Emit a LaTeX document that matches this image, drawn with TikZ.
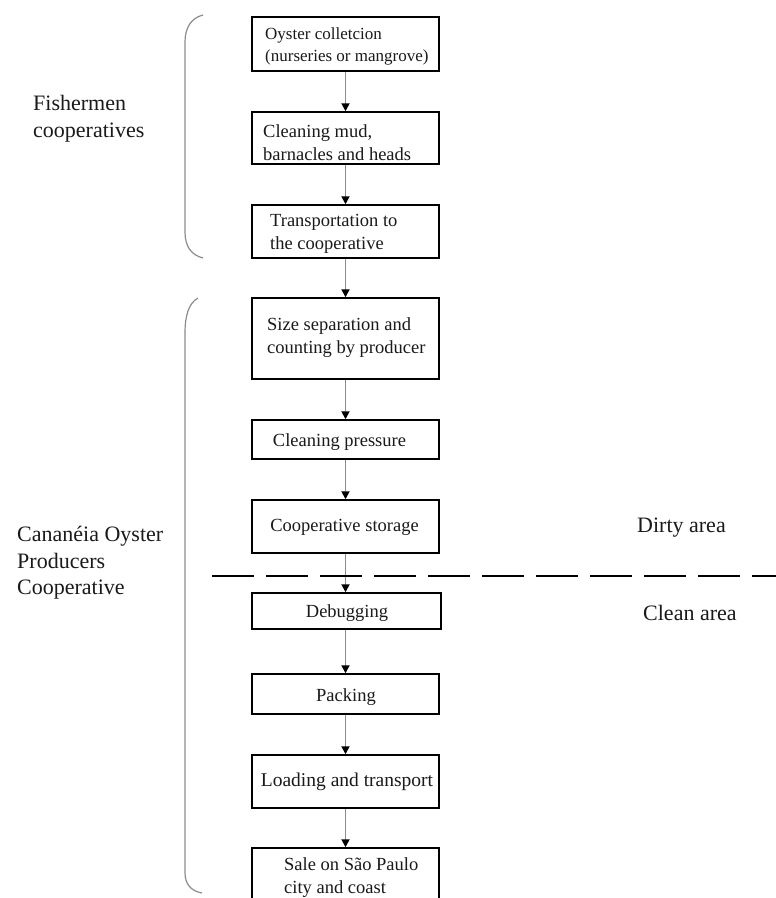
\documentclass[tikz,border=0pt]{standalone}
\usepackage{fontspec}
\setmainfont{Liberation Serif}
\usetikzlibrary{arrows.meta}
\definecolor{linegray}{HTML}{8C8C8C}
\definecolor{txt}{HTML}{1A1A1A}
\tikzset{
  box/.style={draw=black, line width=1.5pt, inner sep=0pt, minimum width=187pt},
  boxtext/.style={inner sep=0pt, align=left, text=txt, font=\fontsize{18.5}{22.5}\selectfont},
  sidetext/.style={inner sep=0pt, align=left, text=txt, font=\fontsize{22}{26.5}\selectfont},
  arr/.style={draw=linegray, line width=1.8pt, -{Triangle[length=8pt,width=8pt,color=black]}},
  bracket/.style={draw=linegray, line width=1.2pt},
  divider/.style={draw=black, line width=1.5pt, dash pattern=on 42pt off 12pt}
}
\begin{document}
\begin{tikzpicture}[x=1pt,y=-1pt]
\useasboundingbox (0,0) rectangle (776,898);
\clip (0,0) rectangle (776,898);
\fill[white] (0,0) rectangle (776,898);

% boxes
\node[box, minimum height=54pt] (b1) at (345.5,44) {};
\node[box, minimum height=52pt] (b2) at (345.5,138) {};
\node[box, minimum height=53pt] (b3) at (345.5,231.5) {};
\node[box, minimum height=81pt] (b4) at (345.5,338.5) {};
\node[box, minimum height=39pt] (b5) at (345.5,439.5) {};
\node[box, minimum height=53pt] (b6) at (345.5,526.5) {};
\node[box, minimum height=36pt, minimum width=189pt] (b7) at (346.5,611) {};
\node[box, minimum height=40pt] (b8) at (345.5,694) {};
\node[box, minimum height=53pt] (b9) at (345.5,781.5) {};
\node[box, minimum height=62pt] (b10) at (345.5,879) {};

% box texts
\node[boxtext, anchor=west, font=\fontsize{17}{22.5}\selectfont] (t1) at (265,46.5) {Oyster colletcion\\(nurseries or mangrove)};
\node[boxtext, anchor=west] (t2) at (263,142.5) {Cleaning mud,\\barnacles and heads};
\node[boxtext, anchor=west] (t3) at (270,234) {Transportation to\\the cooperative};
\node[boxtext, anchor=west] (t4) at (267,337.5) {Size separation and\\counting by producer};
\node[boxtext] (t5) at (339.5,442) {Cleaning pressure};
\node[boxtext] (t6) at (344.5,527) {Cooperative storage};
\node[boxtext] (t7) at (347,613) {Debugging};
\node[boxtext] (t8) at (346,697) {Packing};
\node[boxtext, font=\fontsize{19.5}{22.5}\selectfont] (t9) at (347,782) {Loading and transport};
\node[boxtext, anchor=west] (t10) at (284,877.5) {Sale on São Paulo\\city and coast};

% arrows
\draw[arr] (b1.south) -- (b2.north);
\draw[arr] (b2.south) -- (b3.north);
\draw[arr] (b3.south) -- (b4.north);
\draw[arr] (b4.south) -- (b5.north);
\draw[arr] (b5.south) -- (b6.north);
\draw[arr] (b6.south) -- (b6.south |- b7.north);
\draw[arr] (b7.south -| b8.north) -- (b8.north);
\draw[arr] (b8.south) -- (b9.north);
\draw[arr] (b9.south) -- (b10.north);

% dashed divider
\coordinate (dL) at (212,576);
\coordinate (dR) at (790,576);
\draw[divider] (dL) -- (dR);

% side labels
\node[sidetext, anchor=west] (fish) at (33,118.5) {Fishermen\\cooperatives};
\node[sidetext, anchor=west] (coop) at (17,563) {Cananéia Oyster\\Producers\\Cooperative};
\node[sidetext, anchor=west] (dirty) at (637,528) {Dirty area};
\node[sidetext, anchor=west] (clean) at (643,613) {Clean area};

% brackets
\draw[bracket] (203,15) .. controls (191,18) and (185,28) .. (185,42) -- (185,232) .. controls (185,246) and (191,255) .. (203,258);
\draw[bracket] (198,298) .. controls (189,303) and (185,315) .. (185,333) -- (185,873) .. controls (185,884) and (191,891) .. (202,893);
\end{tikzpicture}
\end{document}
